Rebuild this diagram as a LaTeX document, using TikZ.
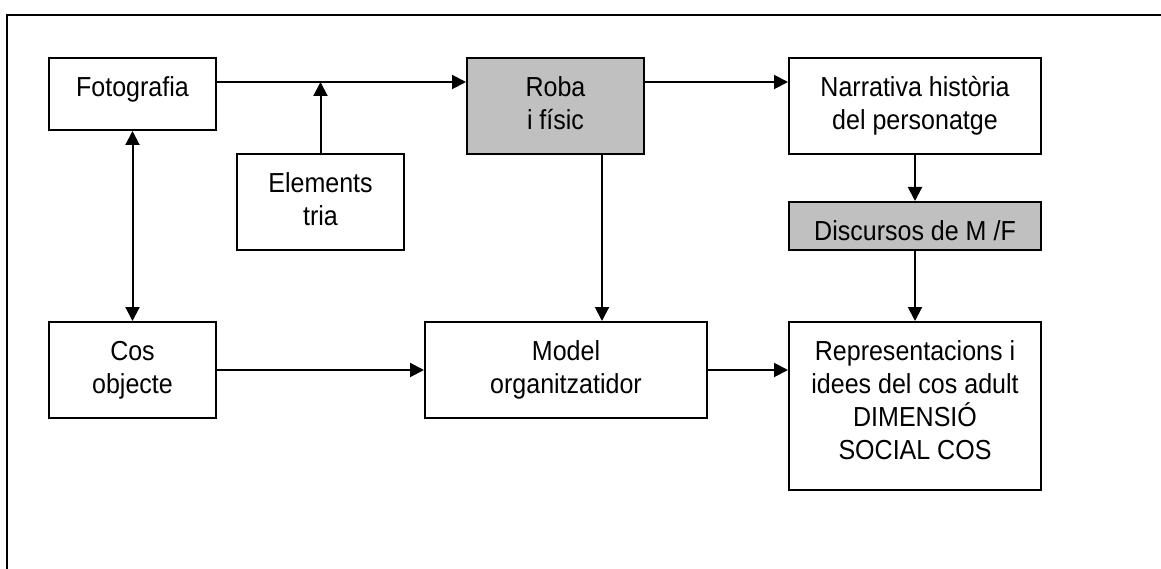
\documentclass[tikz,border=0pt]{standalone}
\usepackage{fontspec}
\setmainfont{Liberation Sans}[FakeStretch=0.91]
\usetikzlibrary{arrows.meta}
\definecolor{boxgray}{RGB}{192,192,192}
\tikzset{
  box/.style={draw=black, line width=2pt, inner sep=0pt, fill=white},
  graybox/.style={box, fill=boxgray},
  arr/.style={line width=2pt, -{Triangle[length=14pt,width=14pt]}},
  dblarr/.style={line width=2pt, {Triangle[length=14pt,width=14pt]}-{Triangle[length=14pt,width=14pt]}},
}
\newcommand{\boxtext}[3]{\parbox[c][#2pt][t]{#1pt}{\centering\fontsize{27.5}{33}\selectfont\rule{0pt}{38.5pt}#3}}
\begin{document}
\begin{tikzpicture}[x=1pt,y=1pt]
\useasboundingbox (0,0) rectangle (1161,-569);
\begin{scope}
\clip (0,0) rectangle (1161,-569);
\draw[line width=2pt] (7,-590) -- (7,-15) -- (1180,-15);
\end{scope}
\node[box] (foto) at (132.5,-94) {\boxtext{167}{72}{Fotografia}};
\node[box] (elem) at (320.5,-202) {\boxtext{167}{96}{Elements\\tria}};
\node[graybox] (roba) at (555.5,-106) {\boxtext{177}{96}{Roba\\i físic}};
\node[box] (narr) at (915,-106) {\boxtext{252}{96}{Narrativa història\\del personatge}};
\node[graybox] (disc) at (915,-226) {\boxtext{252}{48}{Discursos de M /F}};
\node[box] (cos) at (132.5,-370) {\boxtext{167}{96}{Cos\\objecte}};
\node[box] (model) at (566,-370) {\boxtext{282}{96}{Model\\organitzatidor}};
\node[box] (repr) at (915,-406) {\boxtext{252}{168}{Representacions i\\idees del cos adult\\DIMENSIÓ\\SOCIAL COS}};
\coordinate (fr) at ([yshift=12]foto.east);
\draw[arr] (fr) -- (fr -| roba.west);
\draw[arr] (elem.north) -- (elem.north |- fr);
\draw[arr] (fr -| roba.east) -- (fr -| narr.west);
\draw[dblarr] (foto.south) -- (cos.north);
\coordinate (rb) at ([xshift=46.5]roba.south);
\draw[arr] (rb) -- (rb |- model.north);
\draw[arr] (narr.south) -- (disc.north);
\draw[arr] (disc.south) -- (repr.north);
\draw[arr] (cos.east) -- (model.west);
\draw[arr] (model.east) -- (model.east -| repr.west);
\end{tikzpicture}
\end{document}
